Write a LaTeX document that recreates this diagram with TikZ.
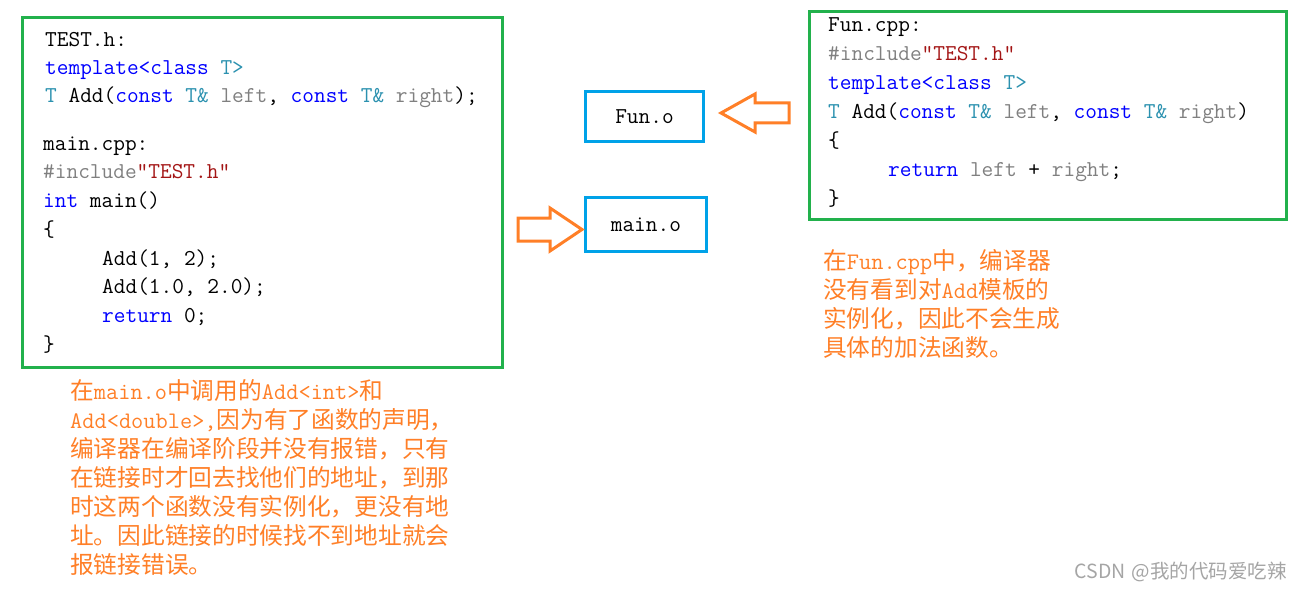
\documentclass[tikz,border=0pt]{standalone}
\usepackage{fontspec}
\newfontfamily\cjk{Noto Sans CJK SC}
\definecolor{grn}{RGB}{34,177,76}
\definecolor{blu}{RGB}{0,162,232}
\definecolor{org}{RGB}{255,127,39}
\definecolor{kwc}{RGB}{0,0,255}
\definecolor{tyc}{RGB}{43,145,175}
\definecolor{grc}{RGB}{128,128,128}
\definecolor{stc}{RGB}{163,21,21}
\definecolor{wmc}{RGB}{165,165,165}
\newcommand\kw[1]{\textcolor{kwc}{#1}}
\newcommand\ty[1]{\textcolor{tyc}{#1}}
\newcommand\gr[1]{\textcolor{grc}{#1}}
\newcommand\stq[1]{\textcolor{stc}{#1}}
\newcommand\lat[1]{{\ttfamily #1}}
\begin{document}
\begin{tikzpicture}[x=1pt,y=-1pt,
  codefont/.style={font=\ttfamily\fontsize{22.7}{29}\selectfont},
  code/.style={codefont, anchor=base west, inner sep=0pt, text=black},
  note/.style={anchor=base west, inner sep=0pt, text=org, font=\cjk\fontsize{23.7}{29}\selectfont},
  gbox/.style={draw=grn, line width=3pt, inner sep=0pt},
  obox/.style={draw=blu, line width=3pt, inner sep=0pt, codefont, text height=14pt, text depth=0pt},
  barrow/.style={draw=org, line width=3pt, line join=miter, fill=white}]
\useasboundingbox (0,0) rectangle (1303,591);
% containers
\node[gbox, minimum width=479.5, minimum height=350] (lbox) at (262.5,192.5) {};
\node[gbox, minimum width=477.5, minimum height=208.7] (rbox) at (1048,115.4) {};
\node[obox, minimum width=117.6, minimum height=50] (funo) at (644.5,116.7) {Fun.o};
\node[obox, minimum width=120.3, minimum height=54] (maino) at (645.9,224.7) {main.o};
% block arrows
\draw[barrow] (721,113) -- (755,94) -- (755,103) -- (789,103) -- (789,123) -- (755,123) -- (755,132) -- cycle;
\draw[barrow] (518,218) -- (550,218) -- (550,208) -- (582,229.5) -- (550,251) -- (550,241) -- (518,241) -- cycle;
% left code
\node[code] (l1) at (45,47) {TEST.h:};
\node[code] (l2) at (45,75) {\kw{template<class} \ty{T>}};
\node[code] (l3) at (45,103) {\ty{T} Add(\kw{const} \ty{T\&} \gr{left}, \kw{const} \ty{T\&} \gr{right});};
\node[code] (l4) at (43,150) {main.cpp:};
\node[code] (l5) at (43,178) {\gr{\#include}\stq{"TEST.h"}};
\node[code] (l6) at (43,207) {\kw{int} main()};
\node[code] (l7) at (43,236) {\{};
\node[code] (l8) at (102,265) {Add(1, 2);};
\node[code] (l9) at (102,293) {Add(1.0, 2.0);};
\node[code] (l10) at (102,322) {\kw{return} 0;};
\node[code] (l11) at (43,351) {\}};
% right code
\node[code] (r1) at (828,32) {Fun.cpp:};
\node[code] (r2) at (828,61) {\gr{\#include}\stq{"TEST.h"}};
\node[code] (r3) at (828,90) {\kw{template<class} \ty{T>}};
\node[code] (r4) at (828,118) {\ty{T} Add(\kw{const} \ty{T\&} \gr{left}, \kw{const} \ty{T\&} \gr{right})};
\node[code] (r5) at (828,147) {\{};
\node[code] (r6) at (888,176) {\kw{return} \gr{left} + \gr{right};};
\node[code] (r7) at (828,205) {\}};
% right note
\node[note] (n1) at (823,269) {在\lat{Fun.cpp}中，编译器};
\node[note] (n2) at (823,298) {没有看到对\lat{Add}模板的};
\node[note] (n3) at (823,327) {实例化，因此不会生成};
\node[note] (n4) at (823,356) {具体的加法函数。};
% left note
\node[note] (m1) at (70,399) {在\lat{main.o}中调用的\lat{Add<int>}和};
\node[note] (m2) at (70,428) {\lat{Add<double>,}因为有了函数的声明，};
\node[note] (m3) at (70,457) {编译器在编译阶段并没有报错，只有};
\node[note] (m4) at (70,486) {在链接时才回去找他们的地址，到那};
\node[note] (m5) at (70,515) {时这两个函数没有实例化，更没有地};
\node[note] (m6) at (70,544) {址。因此链接的时候找不到地址就会};
\node[note] (m7) at (70,573) {报链接错误。};
% watermark
\node[anchor=east, inner sep=0pt, text=wmc, font=\cjk\fontsize{19.5}{21}\selectfont] (wm) at (1287,572) {CSDN\hspace{0.3em}@我的代码爱吃辣};
\end{tikzpicture}
\end{document}
